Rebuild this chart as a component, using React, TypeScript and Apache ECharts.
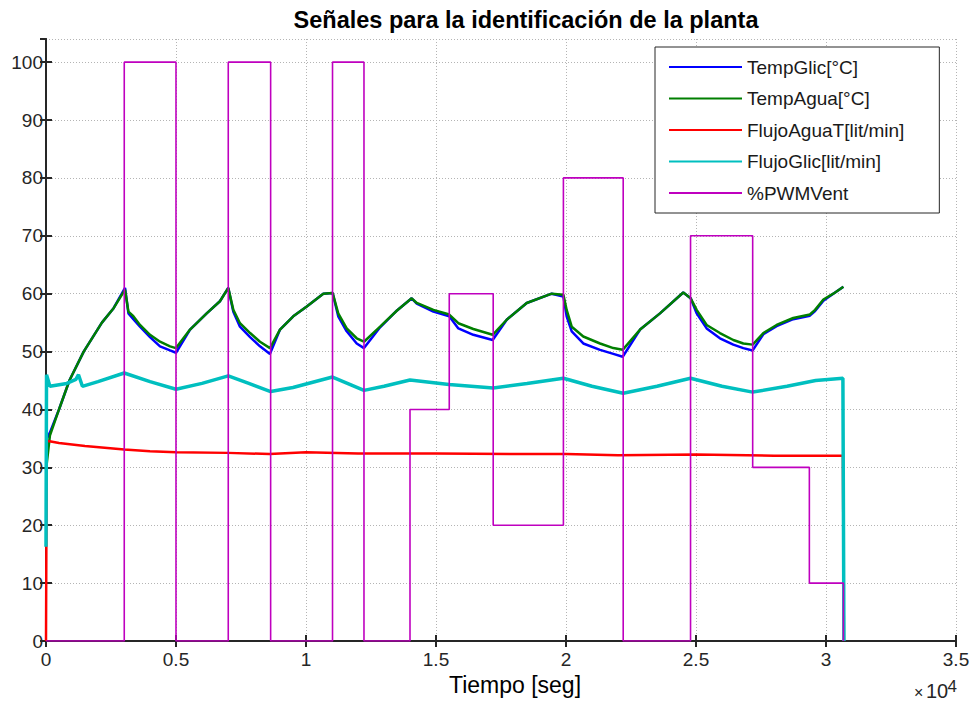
import React, { useEffect, useRef } from "react";
import * as echarts from "echarts";

// Time grid (s) for the temperature signals
const tempTimes = [0, 150, 500, 900, 1450, 2150, 2600, 3040, 3170, 3360, 3615, 4000, 4385, 4770, 5000, 5540, 6180, 6690, 7010, 7205, 7460, 7850, 8230, 8615, 9000, 9510, 10030, 10665, 11025, 11240, 11565, 11950, 12230, 12850, 13500, 14065, 14260, 14900, 15510, 15860, 16435, 17180, 17720, 18490, 19450, 19900, 20025, 20220, 20665, 21310, 21820, 22180, 22850, 23615, 24510, 24795, 25025, 25410, 25920, 26435, 26820, 27180, 27590, 28100, 28740, 29380, 29580, 29900, 30280, 30670];
const tempGlic = [34.7, 36, 40, 45, 50, 55, 57.5, 61, 56.6, 55.6, 54.3, 52.5, 50.9, 50.2, 49.8, 53.8, 56.6, 58.7, 61, 56.9, 54.3, 52.5, 50.9, 49.6, 53.8, 56.1, 57.8, 60, 60.1, 56.1, 53.5, 51.4, 50.6, 54.2, 57.1, 59.2, 58.3, 56.9, 56.1, 54, 52.9, 52, 55.5, 58.4, 60, 59.5, 56.1, 53.5, 51.4, 50.3, 49.6, 49.1, 53.8, 56.6, 60.2, 59.2, 56.6, 54, 52.3, 51.2, 50.6, 50.2, 53, 54.4, 55.6, 56.2, 57, 58.8, 60, 61.2];
const tempAgua = [29.5, 35.5, 40, 45, 50, 55, 57.5, 60.7, 56.9, 56.1, 54.6, 52.9, 51.7, 50.9, 50.6, 53.8, 56.6, 58.7, 61, 57.2, 54.9, 53.2, 51.7, 50.6, 53.8, 56.1, 57.8, 60, 60.1, 56.6, 54, 52.3, 51.7, 54.3, 57.1, 59.2, 58.4, 57.2, 56.4, 54.9, 53.9, 52.9, 55.5, 58.4, 60, 59.8, 57.2, 54.3, 52.6, 51.4, 50.6, 50.3, 53.8, 56.6, 60.2, 59.2, 57.2, 54.6, 53.2, 52, 51.4, 51.2, 53.2, 54.6, 55.8, 56.4, 57.2, 59, 60, 61.2];

const aguaFlowTimes = [0, 30, 500, 1500, 3010, 4000, 5000, 7000, 8600, 10000, 12000, 15000, 18000, 20000, 22000, 25000, 28000, 30650, 30690];
const flujoAguaT = [0, 34.6, 34.2, 33.7, 33.1, 32.8, 32.6, 32.5, 32.3, 32.6, 32.4, 32.4, 32.3, 32.3, 32.1, 32.2, 32, 32, 0];

const glicFlowTimes = [0, 20, 150, 800, 1150, 1250, 1400, 2000, 3010, 4000, 5000, 6000, 7010, 7800, 8640, 9500, 11020, 12230, 13000, 14000, 15500, 17200, 18500, 19900, 21000, 22200, 23500, 24790, 26000, 27180, 28500, 29600, 30650, 30690];
const flujoGlic = [16.3, 46, 44, 44.5, 45.2, 46, 44, 44.8, 46.3, 44.8, 43.5, 44.5, 45.8, 44.5, 43.1, 43.8, 45.6, 43.3, 44, 45.1, 44.3, 43.7, 44.5, 45.4, 44, 42.8, 44, 45.4, 44, 43, 44, 45, 45.4, 0];

const pwmTimes = [0, 3010, 5000, 7010, 8640, 11020, 12230, 14000, 15510, 17200, 19900, 22200, 24790, 27180, 29360, 30670];
const pwmValues = [0, 100, 0, 100, 0, 100, 0, 40, 60, 20, 80, 0, 70, 30, 10, 0];

const seriesNames = ["TempGlic[°C]", "TempAgua[°C]", "FlujoAguaT[lit/min]", "FlujoGlic[lit/min]", "%PWMVent"];
const seriesColors = ["#0000ff", "#007f00", "#ff0000", "#00bfbf", "#bf00bf"];

const titleText = "Señales para la identificación de la planta";
const xAxisTitle = "Tiempo [seg]";

const FONT = "'Liberation Sans', Arial, Helvetica, sans-serif";
const AX = "#262626";

const zip = (ts: number[], vs: number[]) => ts.map((t, i) => [t, vs[i]]);

export default function App() {
  const ref = useRef<HTMLDivElement>(null);
  useEffect(() => {
    if (!ref.current) return;
    const chart = echarts.init(ref.current, undefined, { renderer: "svg" });
    const grid = { left: 46, top: 39, right: 22, bottom: 61 };
    const xCommon = {
      type: "value" as const,
      min: 0,
      max: 35000,
      interval: 5000,
    };
    const yCommon = {
      type: "value" as const,
      min: 0,
      max: 104,
      interval: 10,
    };
    const lineSeries = (idx: number, data: number[][], width: number, extra: any = {}) => ({
      name: seriesNames[idx],
      type: "line",
      data,
      symbol: "none",
      showSymbol: false,
      color: seriesColors[idx],
      lineStyle: { color: seriesColors[idx], width },
      emphasis: { disabled: true },
      z: 2 + idx,
      ...extra,
    });
    chart.setOption({
      animation: false,
      backgroundColor: "#ffffff",
      textStyle: { fontFamily: FONT },
      grid,
      xAxis: [
        {
          ...xCommon,
          position: "bottom",
          axisLine: { show: true, lineStyle: { color: AX, width: 2 } },
          axisTick: { show: true, inside: true, length: 6, lineStyle: { color: AX, width: 2 } },
          axisLabel: {
            margin: 9,
            fontSize: 19,
            color: AX,
            fontFamily: FONT,
            formatter: (v: number) => String(v / 10000),
          },
          splitLine: { show: true, lineStyle: { color: "#b4b4b4", width: 1, type: [1, 2] } },
        },
        {
          ...xCommon,
          position: "top",
          axisLine: { show: true, lineStyle: { color: AX, width: 2 } },
          axisTick: { show: true, inside: true, length: 6, lineStyle: { color: AX, width: 2 } },
          axisLabel: { show: false },
          splitLine: { show: false },
        },
      ],
      yAxis: [
        {
          ...yCommon,
          position: "left",
          axisLine: { show: true, lineStyle: { color: AX, width: 2 } },
          axisTick: { show: true, inside: true, length: 6, lineStyle: { color: AX, width: 2 } },
          axisLabel: {
            margin: 3,
            fontSize: 19,
            color: AX,
            fontFamily: FONT,
            showMaxLabel: false,
            formatter: (v: number) => (v % 10 === 0 ? String(v) : ""),
          },
          splitLine: { show: true, lineStyle: { color: "#b4b4b4", width: 1, type: [1, 2] } },
        },
        {
          ...yCommon,
          position: "right",
          axisLine: { show: true, lineStyle: { color: AX, width: 2 } },
          axisTick: { show: true, inside: true, length: 6, lineStyle: { color: AX, width: 2 } },
          axisLabel: { show: false },
          splitLine: { show: false },
        },
      ],
      legend: {
        data: seriesNames,
        orient: "vertical",
        left: 655,
        top: 47,
        icon: "rect",
        itemWidth: 73,
        itemHeight: 2,
        itemGap: 12.5,
        padding: [10.5, 35, 10.5, 14],
        backgroundColor: "#ffffff",
        borderColor: AX,
        borderWidth: 1,
        selectedMode: false,
        textStyle: { fontSize: 19, color: "#1a1a1a", fontFamily: FONT },
        z: 10,
      },
      graphic: [
        {
          type: "text",
          x: 526,
          y: 20,
          style: {
            text: titleText,
            fontSize: 23.5,
            fontWeight: "bold",
            fontFamily: FONT,
            fill: "#000",
            align: "center",
            verticalAlign: "middle",
          },
        },
        {
          type: "text",
          x: 515,
          y: 685,
          style: {
            text: xAxisTitle,
            fontSize: 23,
            fontFamily: FONT,
            fill: "#000",
            align: "center",
            verticalAlign: "middle",
          },
        },
        {
          type: "text",
          x: 914,
          y: 692,
          style: { text: "×", fontSize: 16, fontFamily: FONT, fill: AX, align: "left", verticalAlign: "middle" },
        },
        {
          type: "text",
          x: 926,
          y: 691,
          style: { text: "10", fontSize: 20, fontFamily: FONT, fill: AX, align: "left", verticalAlign: "middle" },
        },
        {
          type: "text",
          x: 947.5,
          y: 686,
          style: { text: "4", fontSize: 17, fontFamily: FONT, fill: AX, align: "left", verticalAlign: "middle" },
        },
      ],
      series: [
        lineSeries(0, zip(tempTimes, tempGlic), 2.5),
        lineSeries(1, zip(tempTimes, tempAgua), 2.5),
        lineSeries(2, zip(aguaFlowTimes, flujoAguaT), 2.5),
        lineSeries(3, zip(glicFlowTimes, flujoGlic), 3.5),
        lineSeries(4, zip(pwmTimes, pwmValues), 1.6, { step: "end" }),
      ],
    });
    return () => chart.dispose();
  }, []);
  return (
    <div
      ref={ref}
      style={{ position: "absolute", left: 0, top: 0, width: 978, height: 702 }}
    />
  );
}
